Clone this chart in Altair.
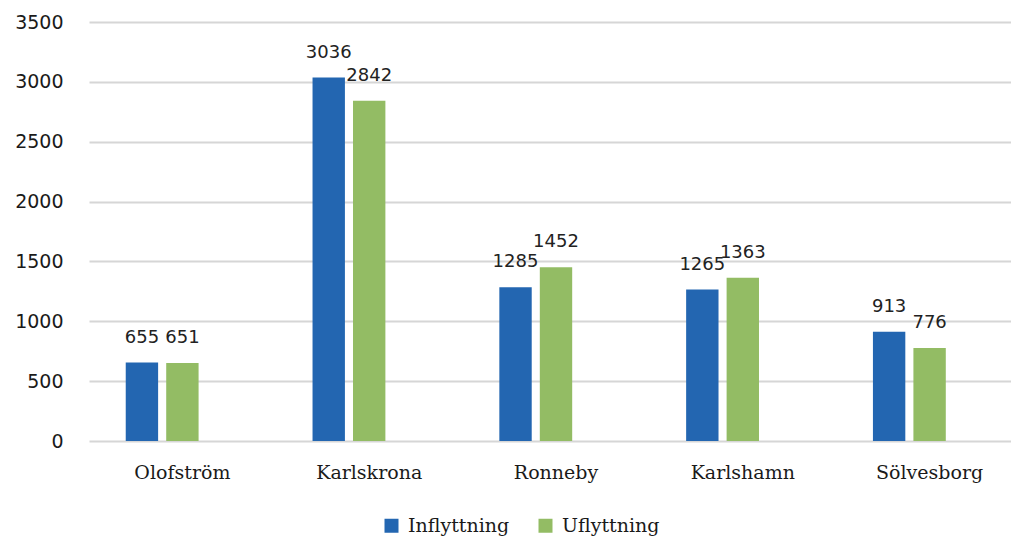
import altair as alt
import pandas as pd

municipalities = ["Olofström", "Karlskrona", "Ronneby", "Karlshamn", "Sölvesborg"]
series_names = ["Inflyttning", "Uflyttning"]
inflyttning = [655, 3036, 1285, 1265, 913]
uflyttning = [651, 2842, 1452, 1363, 776]
y_ticks = [0, 500, 1000, 1500, 2000, 2500, 3000, 3500]

rows = []
for i, m in enumerate(municipalities):
    rows.append({"kommun": m, "serie": series_names[0], "antal": inflyttning[i]})
    rows.append({"kommun": m, "serie": series_names[1], "antal": uflyttning[i]})
df = pd.DataFrame(rows)

blue = "#2366b1"
green = "#93bc64"
serif = "DejaVu Serif"
sans = "DejaVu Sans"

# category bands run slightly past the right edge of the gridlines
x_scale = alt.Scale(paddingInner=0.35, paddingOuter=0.175, range=[0, 934])

x_enc = alt.X(
    "kommun:N",
    sort=municipalities,
    scale=x_scale,
    axis=alt.Axis(
        title=None, labelAngle=0, labelFont=serif, labelFontSize=19,
        labelColor="#1a1a1a", labelPadding=22, ticks=False, domain=False,
    ),
)
# third offset slot is left empty so each pair sits left of the band centre
xoff_enc = alt.XOffset(
    "serie:N",
    scale=alt.Scale(domain=series_names + ["_"], paddingInner=0.2, paddingOuter=0.1),
)
y_enc = alt.Y(
    "antal:Q",
    scale=alt.Scale(domain=[0, 3500], nice=False),
    axis=alt.Axis(
        title=None, values=y_ticks, format="d", labelFont=sans, labelFontSize=19,
        labelColor="#1a1a1a", labelPadding=26, ticks=False, domain=False,
        grid=True, gridColor="#d6d6d6", gridWidth=2,
    ),
)

bars = alt.Chart(df).mark_bar().encode(
    x=x_enc,
    xOffset=xoff_enc,
    y=y_enc,
    color=alt.Color(
        "serie:N",
        scale=alt.Scale(domain=series_names, range=[blue, green]),
        legend=alt.Legend(
            title=None, orient="none", direction="horizontal",
            legendX=293, legendY=494, symbolType="square", symbolSize=196,
            symbolStrokeWidth=0, labelFont=serif, labelFontSize=19,
            labelColor="#1a1a1a", columnPadding=26, labelOffset=7,
        ),
    ),
)

labels = alt.Chart(df).mark_text(
    baseline="bottom", dy=-16, font=sans, fontSize=18, color="#222222"
).encode(
    x=alt.X("kommun:N", sort=municipalities, scale=x_scale),
    xOffset=xoff_enc,
    y=alt.Y("antal:Q"),
    text=alt.Text("antal:Q"),
)

chart = (
    alt.layer(bars, labels)
    .properties(
        width=922,
        height=419,
        autosize=alt.AutoSizeParams(type="none"),
        padding={"left": 89, "top": 22, "right": 0, "bottom": 98},
        background="white",
    )
    .configure_view(stroke=None)
)

chart.save("out.html", embed_options={"renderer": "svg", "actions": False})
